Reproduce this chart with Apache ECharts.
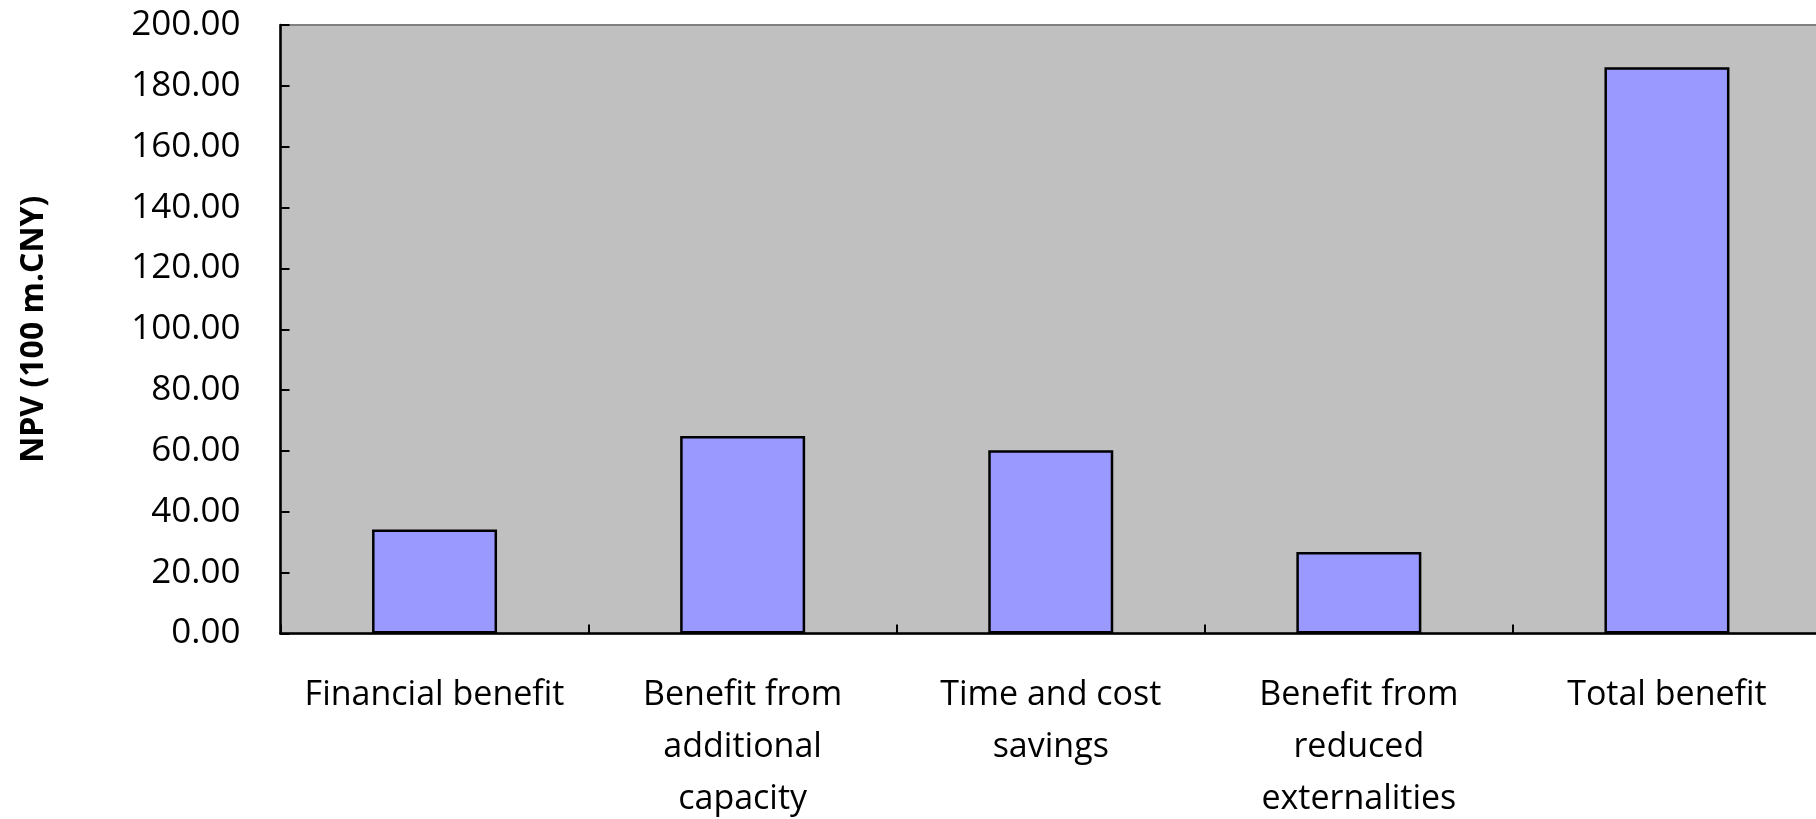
<!DOCTYPE html>
<html>
<head>
<meta charset="utf-8">
<title>NPV of benefits</title>
<script src="https://cdn.jsdelivr.net/npm/echarts@6/dist/echarts.min.js"></script>
<style>
  html, body { margin: 0; padding: 0; background: #ffffff; }
  #chart { width: 1816px; height: 819px; }
</style>
</head>
<body>
<div id="chart"></div>
<script>
// Benefit categories (line breaks as laid out under the axis)
const categories = [
  'Financial benefit',
  'Benefit from\nadditional\ncapacity',
  'Time and cost\nsavings',
  'Benefit from\nreduced\nexternalities',
  'Total benefit'
];

// Net present value, in 100 million CNY
const npvValues = [34.2, 64.9, 60.2, 26.8, 186.1];

// Value axis range
const yMin = 0;
const yMax = 200;
const yStep = 20;

const fontFamily = '"Open Sans", "Noto Sans", sans-serif';

const chart = echarts.init(document.getElementById('chart'), null, { renderer: 'canvas' });

chart.setOption({
  animation: false,
  backgroundColor: '#ffffff',
  grid: {
    left: 280.5,
    right: -5,
    top: 25,
    bottom: 185.5,
    outerBoundsMode: 'none',
    containLabel: false,
    show: true,
    backgroundColor: '#c0c0c0',
    borderColor: '#808080',
    borderWidth: 2
  },
  xAxis: {
    type: 'category',
    data: categories,
    boundaryGap: true,
    axisLine: { show: true, lineStyle: { color: '#000000', width: 2.5 } },
    axisTick: { show: true, inside: true, length: 9, lineStyle: { color: '#000000', width: 2 } },
    axisLabel: {
      color: '#000000',
      fontFamily: fontFamily,
      fontSize: 34,
      lineHeight: 52,
      margin: 36,
      interval: 0,
      align: 'center'
    },
    splitLine: { show: false }
  },
  yAxis: {
    type: 'value',
    min: yMin,
    max: yMax,
    interval: yStep,
    name: 'NPV (100 m.CNY)',
    nameLocation: 'middle',
    nameRotate: 90,
    nameGap: 231,
    nameTextStyle: {
      color: '#000000',
      fontFamily: fontFamily,
      fontWeight: 'bold',
      fontSize: 32
    },
    axisLine: { show: true, lineStyle: { color: '#000000', width: 2.5 } },
    axisTick: { show: true, inside: true, length: 9, lineStyle: { color: '#000000', width: 2 } },
    axisLabel: {
      color: '#000000',
      fontFamily: fontFamily,
      fontSize: 35,
      margin: 40,
      formatter: function (v) { return v.toFixed(2); }
    },
    splitLine: { show: false }
  },
  series: [{
    type: 'bar',
    data: npvValues,
    barWidth: 125,
    itemStyle: {
      color: '#9999ff',
      borderColor: '#000000',
      borderWidth: 2.5
    }
  }]
});
</script>
</body>
</html>
